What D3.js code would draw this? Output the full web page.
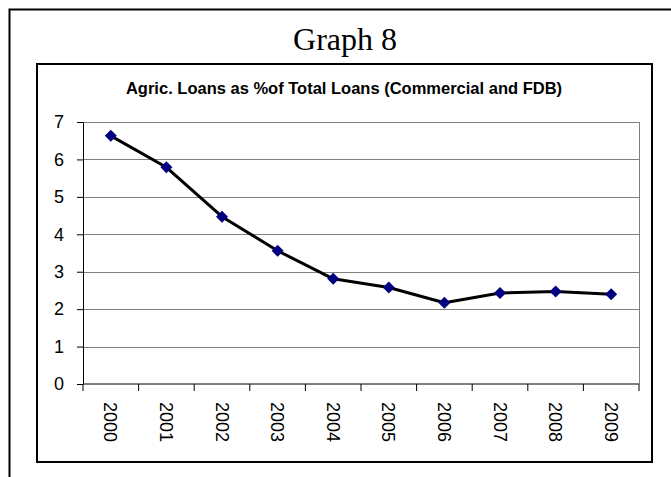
<!DOCTYPE html>
<html>
<head>
<meta charset="utf-8">
<script src="https://cdn.jsdelivr.net/npm/d3@7"></script>
<style>
    body { margin: 0; background: #fff; }
    svg { display: block; }
</style>
</head>
<body>
<div id="chart"></div>
<script>
const pageTitle = 'Graph 8';
const chartTitle = 'Agric. Loans as %of Total Loans (Commercial and FDB)';
const years = ['2000', '2001', '2002', '2003', '2004', '2005', '2006', '2007', '2008', '2009'];
const loanShare = [6.63, 5.79, 4.47, 3.56, 2.81, 2.58, 2.17, 2.43, 2.47, 2.40];
const yTicks = [0, 1, 2, 3, 4, 5, 6, 7];

class ChartManager {
    static draw(idName) {
        const svg = d3.select('#' + idName)
            .append('svg')
            .attr('width', 671)
            .attr('height', 477);

        this.drawFrames(svg);

        const plot = { left: 83, top: 122, right: 639, bottom: 384 };
        const x = d3.scaleBand()
            .domain(years)
            .range([plot.left, plot.right]);
        const y = d3.scaleLinear()
            .domain([0, 7])
            .range([plot.bottom, plot.top]);

        this.drawGrid(svg, x, y, plot);
        this.drawAxes(svg, x, y, plot);
        this.drawLine(svg, x, y);
    }

    static drawFrames(svg) {
        // outer frame runs off the right and bottom of the page
        svg.append('path')
            .attr('d', 'M9.5,480 L9.5,9.5 L680,9.5')
            .attr('fill', 'none')
            .attr('stroke', '#000')
            .attr('stroke-width', 2);

        svg.append('text')
            .attr('x', 345)
            .attr('y', 50)
            .attr('text-anchor', 'middle')
            .attr('font-family', '"Liberation Serif", "Times New Roman", serif')
            .attr('font-size', 32)
            .text(pageTitle);

        svg.append('rect')
            .attr('x', 37)
            .attr('y', 64)
            .attr('width', 615)
            .attr('height', 398)
            .attr('fill', '#fff')
            .attr('stroke', '#000')
            .attr('stroke-width', 2);

        svg.append('text')
            .attr('x', 344)
            .attr('y', 94)
            .attr('text-anchor', 'middle')
            .attr('font-family', '"Liberation Sans", Arial, sans-serif')
            .attr('font-weight', 'bold')
            .attr('font-size', 16.5)
            .text(chartTitle);
    }

    static drawGrid(svg, x, y, plot) {
        svg.append('g')
            .selectAll('line')
            .data(yTicks.filter(d => d > 0))
            .enter()
            .append('line')
            .attr('x1', plot.left)
            .attr('x2', plot.right)
            .attr('y1', d => Math.round(y(d)) + 0.5)
            .attr('y2', d => Math.round(y(d)) + 0.5)
            .attr('stroke', '#808080')
            .attr('stroke-width', 1);

        svg.append('line')
            .attr('x1', plot.right + 0.5)
            .attr('x2', plot.right + 0.5)
            .attr('y1', plot.top)
            .attr('y2', plot.bottom)
            .attr('stroke', '#808080');
    }

    static drawAxes(svg, x, y, plot) {
        const yAxis = svg.append('g')
            .attr('transform', `translate(${plot.left},0)`)
            .call(d3.axisLeft(y)
                .tickValues(yTicks)
                .tickFormat(d3.format('d'))
                .tickSize(6)
                .tickPadding(13)
                .tickSizeOuter(0));
        yAxis.select('.domain').attr('stroke', '#000');
        yAxis.selectAll('text')
            .attr('font-family', '"Liberation Sans", Arial, sans-serif')
            .attr('font-size', 18)
            .attr('fill', '#000');

        // Excel-style ticks between categories
        const xAxis = svg.append('g')
            .attr('transform', `translate(0,${plot.bottom})`);
        xAxis.append('line')
            .attr('x1', plot.left)
            .attr('x2', plot.right)
            .attr('stroke', '#000');
        xAxis.selectAll('.tick')
            .data(years.concat(['end']))
            .enter()
            .append('line')
            .attr('x1', (d, i) => i < years.length ? x(d) : plot.right)
            .attr('x2', (d, i) => i < years.length ? x(d) : plot.right)
            .attr('y1', 0)
            .attr('y2', 7)
            .attr('stroke', '#000');
        xAxis.selectAll('.label')
            .data(years)
            .enter()
            .append('text')
            .attr('transform', d => `translate(${x(d) + x.bandwidth() / 2},18) rotate(90)`)
            .attr('dy', '0.35em')
            .attr('text-anchor', 'start')
            .attr('font-family', '"Liberation Sans", Arial, sans-serif')
            .attr('font-size', 18)
            .text(d => d);
    }

    static drawLine(svg, x, y) {
        const data = years.map((year, i) => ({ year, value: loanShare[i] }));
        const line = d3.line()
            .x(d => x(d.year) + x.bandwidth() / 2)
            .y(d => y(d.value));

        svg.append('path')
            .datum(data)
            .attr('fill', 'none')
            .attr('stroke', '#000')
            .attr('stroke-width', 3)
            .attr('stroke-linejoin', 'round')
            .attr('d', line);

        svg.selectAll('.marker')
            .data(data)
            .enter()
            .append('path')
            .attr('class', 'marker')
            .attr('d', 'M0,-6 L6,0 L0,6 L-6,0 Z')
            .attr('transform', d => `translate(${x(d.year) + x.bandwidth() / 2},${y(d.value)})`)
            .attr('fill', '#000080');
    }
}

ChartManager.draw('chart');
</script>
</body>
</html>
